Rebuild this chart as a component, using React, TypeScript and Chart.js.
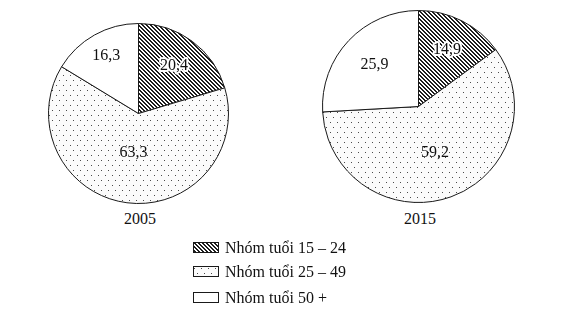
import React, { useEffect, useRef } from "react";
import { Chart, registerables } from "chart.js";

Chart.register(...registerables);

const categories = ["Nhóm tuổi 15 – 24", "Nhóm tuổi 25 – 49", "Nhóm tuổi 50 +"];
const years = ["2005", "2015"];
const values2005 = [20.4, 63.3, 16.3];
const values2015 = [14.9, 59.2, 25.9];

const FONT = '"Liberation Serif", "DejaVu Serif", serif';

function makeHatch(): CanvasPattern | string {
  const c = document.createElement("canvas");
  c.width = 4;
  c.height = 4;
  const ctx = c.getContext("2d")!;
  const img = ctx.createImageData(4, 4);
  for (let y = 0; y < 4; y++) {
    for (let x = 0; x < 4; x++) {
      const d = (((x - y) % 4) + 4) % 4;
      const dark = d === 0 || d === 1;
      const i = (y * 4 + x) * 4;
      const v = dark ? 30 : 255;
      img.data[i] = v;
      img.data[i + 1] = v;
      img.data[i + 2] = v;
      img.data[i + 3] = 255;
    }
  }
  ctx.putImageData(img, 0, 0);
  return ctx.createPattern(c, "repeat") || "#555";
}

function makeDots(): CanvasPattern | string {
  const c = document.createElement("canvas");
  c.width = 7;
  c.height = 10;
  const ctx = c.getContext("2d")!;
  ctx.fillStyle = "#fbfbfb";
  ctx.fillRect(0, 0, 7, 10);
  ctx.fillStyle = "#4a4a4a";
  ctx.fillRect(1, 2, 1, 1);
  ctx.fillRect(4, 7, 1, 1);
  return ctx.createPattern(c, "repeat") || "#ddd";
}

const sliceLabels = {
  id: "sliceLabels",
  afterDatasetsDraw(chart: any, _args: any, opts: any) {
    const ctx = chart.ctx;
    const meta = chart.getDatasetMeta(0);
    const data = chart.data.datasets[0].data as number[];
    ctx.save();
    ctx.font = `16px ${FONT}`;
    ctx.textAlign = "center";
    ctx.textBaseline = "middle";
    meta.data.forEach((arc: any, i: number) => {
      const p = arc.getProps(["x", "y", "startAngle", "endAngle", "outerRadius"], true);
      const mid = (p.startAngle + p.endAngle) / 2;
      const r = p.outerRadius * (opts.factors?.[i] ?? 0.6);
      const x = p.x + Math.cos(mid) * r;
      const y = p.y + Math.sin(mid) * r;
      const txt = data[i].toFixed(1).replace(".", ",");
      if (opts.halo?.[i]) {
        ctx.lineWidth = 4;
        ctx.strokeStyle = "#fff";
        ctx.lineJoin = "round";
        ctx.strokeText(txt, x, y);
      }
      ctx.fillStyle = "#111";
      ctx.fillText(txt, x, y);
    });
    ctx.restore();
  },
};

function PieChart({ values, size, factors }: { values: number[]; size: number; factors: number[] }) {
  const ref = useRef<HTMLCanvasElement | null>(null);
  useEffect(() => {
    if (!ref.current) return;
    const chart = new Chart(ref.current, {
      type: "pie",
      data: {
        labels: categories,
        datasets: [
          {
            data: values,
            backgroundColor: [makeHatch(), makeDots(), "#ffffff"] as any,
            borderColor: "#1a1a1a",
            borderWidth: 1,
            hoverBorderWidth: 1,
            offset: 0,
            hoverOffset: 0,
          },
        ],
      },
      options: {
        animation: false,
        responsive: false,
        events: [],
        layout: { padding: 0 },
        plugins: {
          legend: { display: false },
          tooltip: { enabled: false },
          sliceLabels: { factors, halo: [true, false, false] },
        } as any,
      },
      plugins: [sliceLabels],
    });
    return () => chart.destroy();
  }, []);
  return <canvas ref={ref} width={size} height={size} style={{ width: size, height: size, display: "block" }} />;
}

function LegendBox({ index }: { index: number }) {
  const ref = useRef<HTMLCanvasElement | null>(null);
  useEffect(() => {
    const c = ref.current;
    if (!c) return;
    const ctx = c.getContext("2d")!;
    const fills = [makeHatch(), makeDots(), "#ffffff"];
    ctx.fillStyle = fills[index] as any;
    ctx.fillRect(0, 0, c.width, c.height);
    ctx.strokeStyle = "#1a1a1a";
    ctx.lineWidth = 1;
    ctx.strokeRect(0.5, 0.5, c.width - 1, c.height - 1);
  }, [index]);
  return <canvas ref={ref} width={26} height={11} style={{ width: 26, height: 11, display: "block" }} />;
}

export default function App() {
  const legendTops = [242, 266, 292];
  return (
    <div
      style={{
        position: "fixed",
        left: 0,
        top: 0,
        width: 571,
        height: 315,
        background: "#ffffff",
        fontFamily: FONT,
        color: "#111",
        overflow: "hidden",
      }}
    >
      <div style={{ position: "absolute", left: 48, top: 23 }}>
        <PieChart values={values2005} size={181} factors={[0.66, 0.44, 0.73]} />
      </div>
      <div style={{ position: "absolute", left: 322, top: 10 }}>
        <PieChart values={values2015} size={193} factors={[0.66, 0.51, 0.63]} />
      </div>
      <div style={{ position: "absolute", left: 100, width: 80, top: 209, textAlign: "center", fontSize: 16, lineHeight: "20px" }}>
        {years[0]}
      </div>
      <div style={{ position: "absolute", left: 380, width: 80, top: 209, textAlign: "center", fontSize: 16, lineHeight: "20px" }}>
        {years[1]}
      </div>
      {categories.map((c, i) => (
        <div key={c} style={{ position: "absolute", left: 193, top: legendTops[i], display: "flex", alignItems: "center", height: 11 }}>
          <LegendBox index={i} />
          <span style={{ marginLeft: 6, fontSize: 16, lineHeight: "11px", whiteSpace: "nowrap" }}>{c}</span>
        </div>
      ))}
    </div>
  );
}
